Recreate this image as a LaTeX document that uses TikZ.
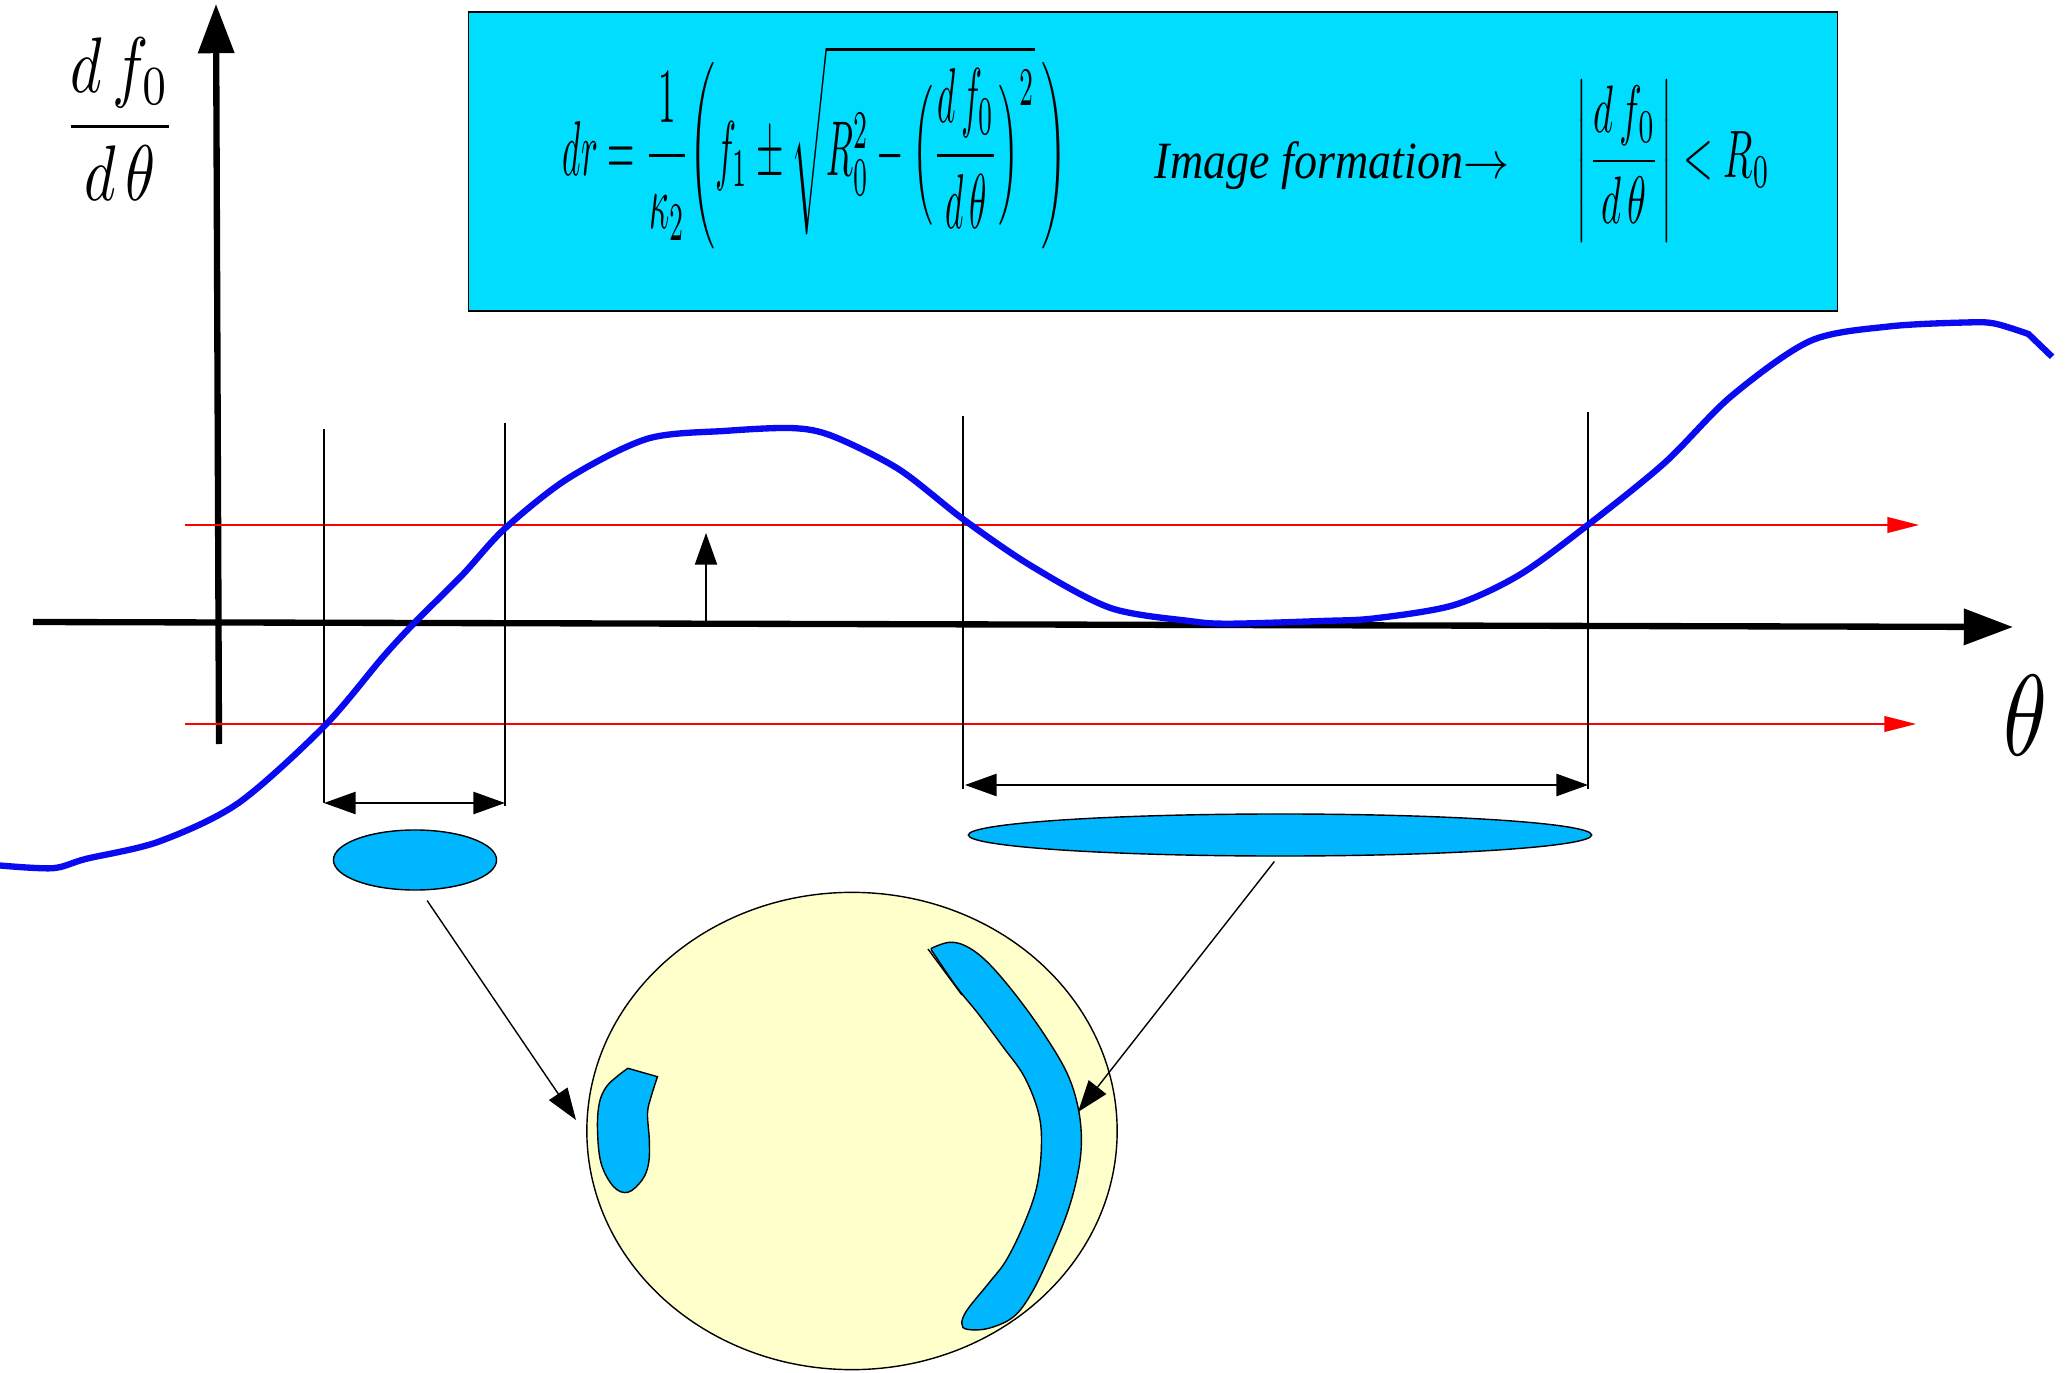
\documentclass[tikz,border=0pt]{standalone}
\usepackage{amsmath,amssymb}
\usepackage{graphicx}
\usepackage{fontspec}
\setmainfont{Liberation Serif}
\usetikzlibrary{arrows.meta,shapes.geometric}

\definecolor{boxcyan}{RGB}{0,221,255}
\definecolor{spotblue}{RGB}{0,183,255}
\definecolor{cellyellow}{RGB}{255,255,204}
\definecolor{curveblue}{RGB}{10,10,240}

\tikzset{
  mainaxis/.style={line width=1.8pt, -{Triangle[length=14pt,width=10pt]}},
  bound/.style={red, line width=0.4pt, -{Triangle[length=9pt,width=4.5pt]}},
  guide/.style={line width=0.4pt},
  widthmark/.style={line width=0.6pt, {Triangle[length=9pt,width=6.3pt]}-{Triangle[length=9pt,width=6.3pt]}},
  pointer/.style={line width=0.4pt, -{Triangle[length=9pt,width=6.3pt]}},
  spot/.style={ellipse, draw, fill=spotblue, inner sep=0pt, line width=0.4pt},
}

\begin{document}
\begin{tikzpicture}[x=0.01cm, y=-0.01cm]
    \useasboundingbox (0,0) rectangle (2072,1373);
    % Formula box
    \node[draw, fill=boxcyan, line width=0.5pt, inner sep=0pt,
          minimum width=13.68cm, minimum height=2.99cm] (formbox) at (1153,161.5) {};
    \node (formula) at (815,147) {\resizebox*{5.04cm}{2.04cm}{$\displaystyle dr=\frac{1}{\kappa_2}\biggl(f_1\pm\sqrt{R_0^2-\Bigl(\frac{d\,f_0}{d\,\theta}\Bigr)^2}\,\biggr)$}};
    \node (imgtext) at (1332,166) {\resizebox*{3.54cm}{0.48cm}{\itshape Image formation$\rightarrow$}};
    \node (cond) at (1673,161) {\resizebox*{1.94cm}{1.61cm}{$\displaystyle\left|\frac{d\,f_0}{d\,\theta}\right|<R_0$}};
    % Axes
    \coordinate (xstart) at (33,622);
    \coordinate (xend) at (2013,627);
    \coordinate (ystart) at (219,744);
    \coordinate (yend) at (216,4);
    \draw[mainaxis] (xstart) -- (xend);
    \draw[mainaxis] (ystart) -- (yend);
    \node (ylabel) at (120,119) {\resizebox*{1.13cm}{1.62cm}{$\displaystyle\frac{d\,f_0}{d\,\theta}$}};
    \node (xlabel) at (2025,715) {\resizebox*{0.44cm}{0.80cm}{$\theta$}};
    % Levels R0 and -R0
    \coordinate (upL) at (185,525);
    \coordinate (upR) at (1919,525);
    \coordinate (loL) at (185,724);
    \coordinate (loR) at (1916,724);
    \draw[bound] (upL) -- (upR);
    \draw[bound] (loL) -- (loR);
    % Shift of the level
    \coordinate (shiftA) at (706,626);
    \coordinate (shiftB) at (706,533);
    \draw[pointer] (shiftA) -- (shiftB);
    % Guides at the crossings
    \coordinate (gAtop) at (324,429);
    \coordinate (gAbot) at (324,803);
    \coordinate (gBtop) at (505,423);
    \coordinate (gBbot) at (505,806);
    \coordinate (gCtop) at (963,416);
    \coordinate (gCbot) at (963,789);
    \coordinate (gDtop) at (1588,412);
    \coordinate (gDbot) at (1588,789);
    \draw[guide] (gAtop) -- (gAbot);
    \draw[guide] (gBtop) -- (gBbot);
    \draw[guide] (gCtop) -- (gCbot);
    \draw[guide] (gDtop) -- (gDbot);
    % Widths
    \coordinate (wA1) at (324,803);
    \coordinate (wA2) at (505,803);
    \coordinate (wB1) at (965,785);
    \coordinate (wB2) at (1588,785);
    \draw[widthmark] (wA1) -- (wA2);
    \draw[widthmark] (wB1) -- (wB2);
    % Derivative curve
    \draw[curveblue, line width=1.8pt] plot[smooth, tension=0.5] coordinates {
      (0,865.5) (52.9,868.2) (85.9,858.9) (158.6,841.7) (237.9,803.4)
      (323.7,726.8) (383.2,656.7) (416.2,621) (462.5,574.8) (504.8,528.6)
      (568.2,478.3) (647.5,438.7) (726.8,430.8) (792.8,428.1) (832.5,436.1)
      (898.6,469.1) (963.3,519.3) (1030.7,565.6) (1110,607.8) (1189.3,621)
      (1228.9,623.7) (1321.4,621) (1374.3,618.4) (1453.5,605.2) (1519.6,574.8)
      (1588.3,524.6) (1665,462.5) (1731,396.4) (1810.3,340.9) (1889.6,326.4)
      (1968.9,322.4) (1995.3,323.7) (2028.4,334)} -- (2052.1,356.8);
    % Spots
    \node[spot, minimum width=1.63cm, minimum height=0.60cm] (smallspot) at (415,860) {};
    \node[spot, minimum width=6.23cm, minimum height=0.42cm] (bigspot) at (1280,835) {};
    % Image
    \node[ellipse, draw, fill=cellyellow, line width=0.4pt, inner sep=0pt,
          minimum width=5.30cm, minimum height=4.77cm] (cell) at (852,1131) {};
    \draw[fill=spotblue, line width=0.4pt] plot[smooth, tension=0.6] coordinates {
      (657.5,1076.7) (651.1,1096.7) (647.5,1113.3) (649.3,1140) (648.6,1163.3)
      (642.1,1180) (627.9,1192.3) (613.6,1186.7) (601.1,1163.3) (597.5,1130)
      (599.3,1103.3) (606.4,1086.7) (618.9,1075) (627.9,1068.3)} -- cycle;
    \draw[fill=spotblue, line width=0.4pt] plot[smooth, tension=0.6] coordinates {
      (931.4,948.3) (949.3,942.3) (967.1,946.7) (988.6,963.3) (1017.1,996.7)
      (1045.7,1036.7) (1067.1,1073.3) (1077.9,1106.7) (1081.4,1140) (1077.9,1173.3)
      (1067.1,1213.3) (1049.3,1256.7) (1031.4,1293.3) (1013.6,1316.7) (988.6,1328.3)
      (967.1,1329.3) (961.8,1323.3) (967.1,1310) (988.6,1283.3) (1006.4,1260)
      (1024.3,1223.3) (1036.8,1186.7) (1041.4,1146.7) (1038.6,1113.3) (1024.3,1076.7)
      (1002.9,1046.7) (977.9,1013.3) (956.4,986.7) (931.4,950)} -- cycle;
    \draw[line width=0.4pt] (928,949) -- (962,995);
    % Mapping arrows
    \coordinate (tipA) at (576,1120);
    \coordinate (tipB) at (1078,1112);
    \draw[pointer, shorten <=0.12cm] (smallspot.-80) -- (tipA);
    \draw[pointer, shorten <=0.06cm] (bigspot.-95) -- (tipB);
\end{tikzpicture}
\end{document}
